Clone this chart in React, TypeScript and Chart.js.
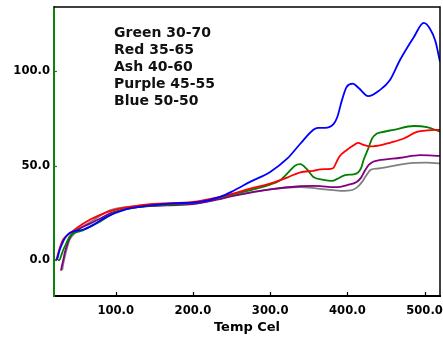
import React, { useEffect, useRef } from "react";
import { Chart, registerables } from "chart.js";

Chart.register(...registerables);

// ---- data ----
const legendLabels = ["Green 30-70", "Red 35-65", "Ash 40-60", "Purple 45-55", "Blue 50-50"];
const xTicks = [100, 200, 300, 400, 500];
const yTicks = [0, 50, 100];
const xTitle = "Temp Cel";

const blueX = [22, 24, 27, 31, 34, 39, 45, 58, 70, 88, 110, 131, 174, 209, 235, 252, 274, 300, 322, 339, 356, 362, 371, 382, 387, 393, 399, 407, 415, 427, 442, 455, 468, 486, 499, 507, 514, 520];
const blueY = [0, 0.5, 5, 9, 11.5, 14, 15.2, 16.2, 18.5, 22.9, 26.5, 28.2, 30, 30.8, 33.5, 36.6, 41.4, 46.7, 53.7, 61.6, 69, 70, 70, 72, 75.8, 84.7, 91.7, 93.4, 91, 86.8, 90, 95.2, 105.8, 118, 125.6, 122.5, 116, 105];

const redX = [23, 25, 28, 32, 40, 58, 79, 101, 144, 200, 231, 252, 274, 300, 313, 322, 339, 356, 365, 378, 382, 386, 390, 399, 407, 414, 421, 430, 445, 455, 473, 490, 504, 520];
const redY = [0, 3, 7, 11, 14, 19.4, 23.8, 26.8, 29.6, 30.8, 33.1, 35.2, 37.9, 40.5, 42.3, 43.7, 46.5, 47.3, 48, 48.3, 48.8, 52, 55, 58.2, 60.5, 62.1, 61, 60.2, 61, 62.1, 64.4, 67.9, 68.7, 69];

const greenX = [25, 27, 29, 32, 35, 40, 58, 79, 101, 144, 200, 252, 300, 313, 326, 332, 339, 347, 356, 369, 380, 387, 397, 408, 414, 418, 421, 427, 432, 438, 442, 460, 486, 503, 520];
const greenY = [0, 0, 2, 5.5, 8, 12.3, 15.8, 20.2, 25.5, 28.7, 30.3, 34.9, 40, 42.3, 47.5, 50, 50.8, 48.4, 44, 42.5, 41.9, 43, 45, 45.4, 46.5, 49, 53, 59, 64.4, 67, 67.5, 69, 71, 70.4, 68];

const purpleX = [29, 30.5, 32, 34, 36, 39, 42, 47, 53, 62, 71, 80, 92, 105, 122, 166, 200, 231, 252, 274, 300, 339, 356, 365, 382, 391, 400, 412, 418, 423, 428, 434, 440, 469, 494, 520];
const purpleY = [-5.6, -2.5, 0, 4, 7, 10.5, 13, 15.2, 16.7, 18.5, 20.2, 22, 24.6, 26.3, 27.8, 29, 29.6, 32, 34, 35.7, 37.5, 39.1, 39.3, 39.2, 38.6, 38.8, 39.7, 41.4, 43.8, 47.6, 50.5, 52.2, 52.8, 54.2, 55.6, 55.2];

const ashX = [30.7, 32, 34, 37, 40, 45, 53, 62, 71, 92, 122, 166, 200, 252, 300, 339, 361, 382, 391, 400, 408, 414, 419, 424, 430, 440, 451, 486, 503, 520];
const ashY = [-5.3, -2, 1.8, 6.5, 10.6, 13.5, 16.7, 19, 21.1, 26.4, 28.5, 29.6, 29.9, 34.3, 37.5, 38.7, 37.9, 37, 36.7, 36.8, 37.4, 39, 41.4, 44.5, 47.8, 48.5, 49.2, 51.5, 51.6, 51.2];

const toPoints = (xs: number[], ys: number[]) => xs.map((x, i) => ({ x, y: ys[i] }));

const FONT = "'DejaVu Sans', Verdana, sans-serif";

const framePlugin = {
  id: "frame",
  afterDraw(chart: any) {
    const { ctx, chartArea: a, scales } = chart;
    ctx.save();
    ctx.strokeStyle = "#000";
    ctx.lineWidth = 1.5;
    ctx.beginPath();
    ctx.moveTo(a.left, a.top);
    ctx.lineTo(a.right, a.top);
    ctx.lineTo(a.right, a.bottom);
    ctx.stroke();
    // inward ticks on x axis
    ctx.lineWidth = 1.2;
    ctx.strokeStyle = "#000";
    for (const v of xTicks) {
      const px = Math.round(scales.x.getPixelForValue(v)) + 0.5;
      ctx.beginPath();
      ctx.moveTo(px, a.bottom);
      ctx.lineTo(px, a.bottom - 4);
      ctx.stroke();
    }
    ctx.strokeStyle = "#108010";
    for (const v of yTicks) {
      const py = Math.round(scales.y.getPixelForValue(v)) + 0.5;
      ctx.beginPath();
      ctx.moveTo(a.left, py);
      ctx.lineTo(a.left + 3, py);
      ctx.stroke();
    }
    ctx.restore();
  },
};

const zeroPad = (s: any) => {
  s.paddingLeft = 0;
  s.paddingRight = 0;
  s.paddingTop = 0;
  s.paddingBottom = 0;
};

export default function App() {
  const ref = useRef<HTMLCanvasElement | null>(null);

  useEffect(() => {
    const canvas = ref.current;
    if (!canvas) return;
    const mk = (label: string, xs: number[], ys: number[], color: string) => ({
      label,
      data: toPoints(xs, ys),
      borderColor: color,
      backgroundColor: color,
      borderWidth: 1.8,
      pointRadius: 0,
      cubicInterpolationMode: "monotone" as const,
      fill: false,
    });
    const chart = new Chart(canvas, {
      type: "line",
      data: {
        datasets: [
          mk("Blue 50-50", blueX, blueY, "#0000ff"),
          mk("Red 35-65", redX, redY, "#ff0000"),
          mk("Green 30-70", greenX, greenY, "#008000"),
          mk("Purple 45-55", purpleX, purpleY, "#800080"),
          mk("Ash 40-60", ashX, ashY, "#808080"),
        ],
      },
      options: {
        animation: false,
        responsive: false,
        devicePixelRatio: 1,
        layout: { padding: { top: 7, right: 3, left: 0, bottom: 0 } },
        plugins: { legend: { display: false }, tooltip: { enabled: false } },
        scales: {
          x: {
            type: "linear",
            min: 20,
            max: 520,
            afterBuildTicks: (s: any) => {
              s.ticks = xTicks.map((v) => ({ value: v }));
            },
            afterFit: (s: any) => {
              s.height = 41;
              zeroPad(s);
            },
            ticks: {
              padding: 8,
              color: "#000",
              font: { family: FONT, size: 11.6, weight: "bold" },
              callback: (v: any) => Number(v).toFixed(1),
              maxRotation: 0,
            },
            grid: { display: true, drawOnChartArea: false, drawTicks: false },
            border: { display: true, color: "#000", width: 2 },
            title: {
              display: true,
              text: xTitle,
              color: "#000",
              font: { family: FONT, size: 13, weight: "bold" },
              padding: { top: 0, bottom: 2 },
            },
          },
          y: {
            type: "linear",
            min: -19,
            max: 134,
            afterBuildTicks: (s: any) => {
              s.ticks = yTicks.map((v) => ({ value: v }));
            },
            afterFit: (s: any) => {
              s.width = 54;
              zeroPad(s);
            },
            ticks: {
              padding: 4,
              color: "#000",
              font: { family: FONT, size: 11.6, weight: "bold" },
              callback: (v: any) => Number(v).toFixed(1),
            },
            grid: { display: true, drawOnChartArea: false, drawTicks: false },
            border: { display: true, color: "#108010", width: 2 },
          },
        },
      },
      plugins: [framePlugin],
    });
    return () => chart.destroy();
  }, []);

  return (
    <div style={{ position: "absolute", left: 0, top: 0, width: 443, height: 337, background: "#fff" }}>
      <canvas ref={ref} width={443} height={337} style={{ display: "block", width: 443, height: 337 }} />
      <div
        style={{
          position: "absolute",
          left: 114,
          top: 24,
          fontFamily: FONT,
          fontWeight: "bold",
          fontSize: 14,
          lineHeight: "17px",
          color: "#111",
          whiteSpace: "nowrap",
        }}
      >
        {legendLabels.map((t) => (
          <div key={t}>{t}</div>
        ))}
      </div>
    </div>
  );
}
